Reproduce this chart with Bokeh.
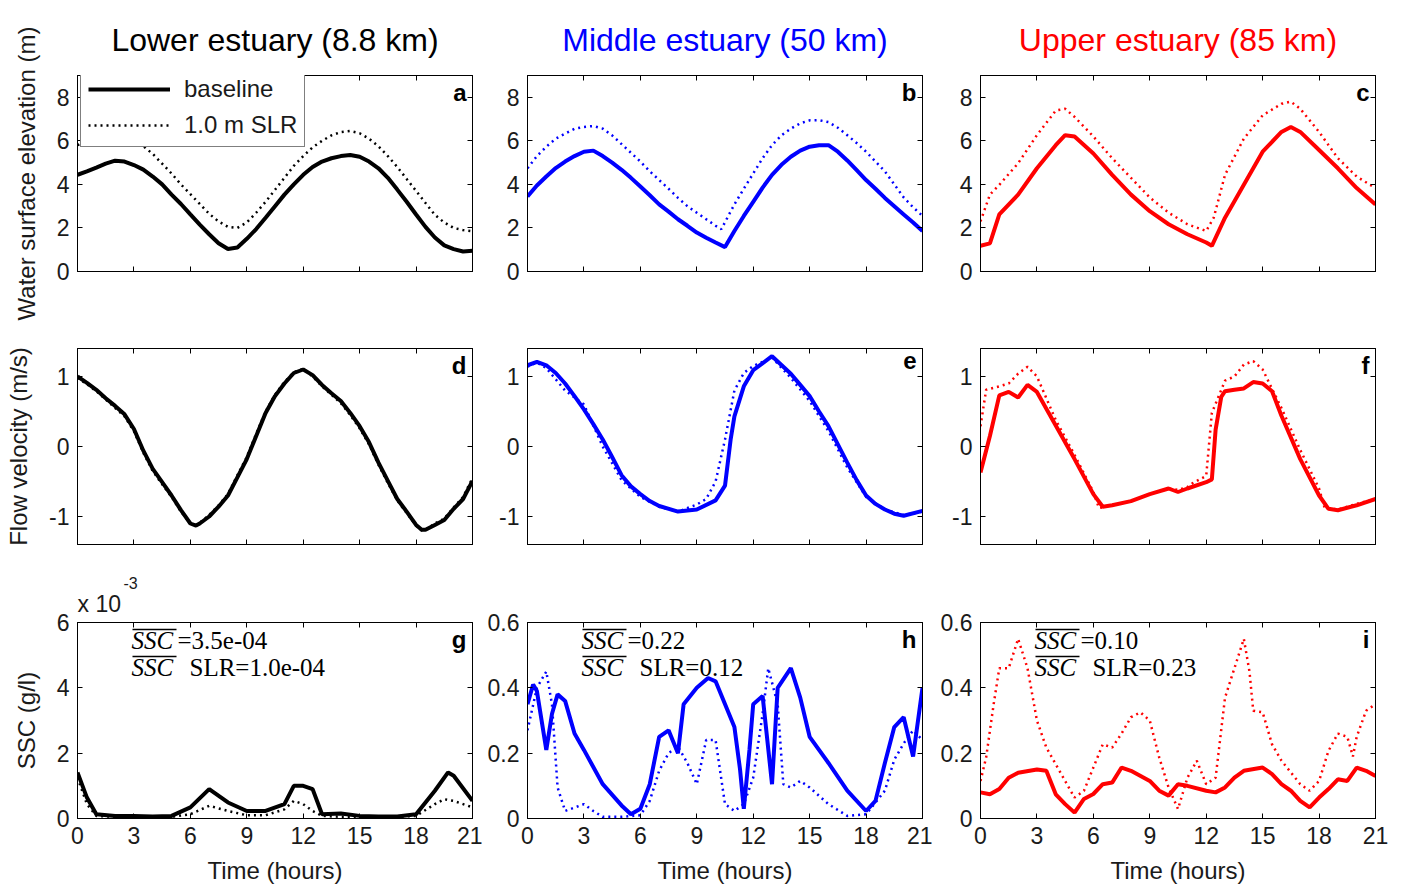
from bokeh.plotting import figure
from bokeh.layouts import column, row
from bokeh.models import (Range1d, FixedTicker, LinearAxis, Label, Legend,
                          LegendItem, Arrow, Title)
from bokeh.embed import file_html
from bokeh.resources import INLINE

# ---------------- data ----------------
titles = ["Lower estuary (8.8 km)", "Middle estuary (50 km)", "Upper estuary (85 km)"]
site_colors = ["black", "blue", "red"]
panel_letters = ["a", "b", "c", "d", "e", "f", "g", "h", "i"]
x_ticks = [0, 3, 6, 9, 12, 15, 18, 21]
legend_labels = ["baseline", "1.0 m SLR"]

# Water surface elevation (m)
a_base_t = [0, 0.5, 1, 1.5, 2, 2.5, 3, 3.5, 4, 4.5, 5, 5.5, 6, 6.5, 7, 7.5, 8, 8.5, 9, 9.5, 10, 10.5, 11, 11.5, 12, 12.5, 13, 13.5, 14, 14.5, 15, 15.5, 16, 16.5, 17, 17.5, 18, 18.5, 19, 19.5, 20, 20.5, 21]
a_base_v = [4.44, 4.6, 4.77, 4.95, 5.09, 5.05, 4.89, 4.68, 4.36, 4.0, 3.53, 3.1, 2.62, 2.15, 1.71, 1.3, 1.03, 1.1, 1.5, 1.95, 2.47, 3.0, 3.53, 4.0, 4.44, 4.8, 5.05, 5.2, 5.3, 5.35, 5.27, 5.05, 4.74, 4.3, 3.76, 3.2, 2.62, 2.05, 1.56, 1.2, 1.03, 0.92, 0.95]
a_slr_t = [0, 1, 2, 3, 4, 4.5, 5, 5.5, 6, 6.5, 7, 7.5, 8, 8.5, 9, 9.5, 10, 10.5, 11, 11.5, 12, 12.5, 13, 13.5, 14, 14.5, 15, 15.5, 16, 16.5, 17, 17.5, 18, 18.5, 19, 19.5, 20, 20.5, 21]
a_slr_v = [5.8, 6.2, 6.3, 6.1, 5.4, 4.95, 4.5, 4.0, 3.55, 3.1, 2.65, 2.3, 2.05, 2.0, 2.25, 2.7, 3.2, 3.75, 4.3, 4.85, 5.3, 5.7, 6.0, 6.25, 6.4, 6.45, 6.35, 6.1, 5.75, 5.3, 4.8, 4.25, 3.7, 3.15, 2.6, 2.25, 2.0, 1.9, 1.85]

b_base_t = [0, 0.5, 1, 1.5, 2, 2.5, 3, 3.5, 4, 4.5, 5, 5.5, 6, 6.5, 7, 7.5, 8, 8.5, 9, 9.5, 10, 10.5, 11, 11.5, 12, 12.5, 13, 13.5, 14, 14.5, 15, 15.5, 16, 16.5, 17, 17.5, 18, 18.5, 19, 19.5, 20, 20.5, 21]
b_base_v = [3.45, 3.95, 4.36, 4.75, 5.05, 5.3, 5.5, 5.55, 5.3, 5.0, 4.67, 4.3, 3.9, 3.5, 3.08, 2.75, 2.4, 2.1, 1.79, 1.55, 1.33, 1.12, 1.86, 2.55, 3.2, 3.85, 4.44, 4.9, 5.27, 5.55, 5.73, 5.8, 5.8, 5.5, 5.1, 4.65, 4.2, 3.8, 3.38, 3.0, 2.62, 2.25, 1.86]
b_slr_t = [0, 0.5, 1, 1.5, 2, 2.5, 3, 3.5, 4, 4.5, 5, 5.5, 6, 6.5, 7, 7.5, 8, 8.5, 9, 9.5, 10, 10.3, 11, 11.5, 12, 12.5, 13, 13.5, 14, 14.5, 15, 15.5, 16, 16.5, 17, 17.5, 18, 18.5, 19, 19.5, 20, 20.5, 21]
b_slr_v = [4.74, 5.3, 5.73, 6.1, 6.33, 6.55, 6.64, 6.68, 6.56, 6.25, 5.85, 5.45, 5.05, 4.6, 4.2, 3.8, 3.38, 3.0, 2.7, 2.4, 2.1, 1.94, 3.08, 3.8, 4.5, 5.2, 5.8, 6.25, 6.56, 6.8, 6.94, 6.95, 6.86, 6.6, 6.26, 5.9, 5.5, 5.05, 4.6, 4.0, 3.4, 2.95, 2.55]

c_base_t = [0, 0.5, 1, 2, 3, 4, 4.5, 5, 6, 7, 8, 9, 10, 11, 12, 12.3, 13, 14, 15, 16, 16.5, 17, 18, 19, 20, 21]
c_base_v = [1.18, 1.29, 2.62, 3.53, 4.74, 5.8, 6.26, 6.2, 5.42, 4.44, 3.53, 2.77, 2.17, 1.71, 1.33, 1.18, 2.47, 3.98, 5.5, 6.41, 6.64, 6.41, 5.58, 4.74, 3.83, 3.08]
c_slr_t = [0, 0.5, 1, 2, 3, 4, 4.5, 5, 6, 7, 8, 9, 10, 11, 12, 12.4, 13, 14, 15, 16, 16.5, 17, 18, 19, 20, 21]
c_slr_v = [2.3, 3.53, 3.98, 4.97, 6.26, 7.39, 7.47, 7.1, 6.2, 5.2, 4.3, 3.4, 2.7, 2.17, 1.86, 2.47, 4.44, 6.1, 7.17, 7.7, 7.8, 7.47, 6.41, 5.2, 4.36, 3.83]

# Flow velocity (m/s)
d_base_t = [0, 0.5, 1, 1.5, 2, 2.5, 3, 3.5, 4, 4.5, 5, 5.5, 6, 6.3, 6.5, 7, 7.5, 8, 8.5, 9, 9.5, 10, 10.5, 11, 11.5, 12, 12.5, 13, 13.5, 14, 14.5, 15, 15.5, 16, 16.5, 17, 17.5, 18, 18.3, 18.5, 19, 19.5, 20, 20.5, 21]
d_base_v = [1.0, 0.91, 0.81, 0.69, 0.58, 0.46, 0.25, -0.06, -0.32, -0.51, -0.7, -0.91, -1.1, -1.13, -1.1, -1.0, -0.86, -0.7, -0.44, -0.18, 0.15, 0.48, 0.72, 0.9, 1.05, 1.1, 1.02, 0.88, 0.76, 0.65, 0.48, 0.29, 0.06, -0.23, -0.49, -0.75, -0.93, -1.12, -1.19, -1.19, -1.12, -1.05, -0.89, -0.75, -0.49]
d_slr_t = [0, 0.5, 1, 1.5, 2, 2.5, 3, 3.5, 4, 4.5, 5, 5.5, 6, 6.3, 6.5, 7, 7.5, 8, 8.5, 9, 9.5, 10, 10.5, 11, 11.5, 12, 12.5, 13, 13.5, 14, 14.5, 15, 15.5, 16, 16.5, 17, 17.5, 18, 18.3, 18.5, 19, 19.5, 20, 20.5, 21]
d_slr_v = [0.98, 0.89, 0.79, 0.67, 0.55, 0.43, 0.22, -0.09, -0.35, -0.54, -0.72, -0.93, -1.1, -1.12, -1.09, -0.98, -0.84, -0.68, -0.41, -0.15, 0.18, 0.5, 0.74, 0.92, 1.06, 1.11, 1.0, 0.86, 0.74, 0.62, 0.45, 0.26, 0.03, -0.26, -0.52, -0.77, -0.95, -1.13, -1.2, -1.19, -1.1, -1.03, -0.87, -0.72, -0.45]

e_base_t = [0, 0.5, 1, 1.5, 2, 2.5, 3, 3.5, 4, 4.5, 5, 5.5, 6, 6.5, 7, 8, 9, 10, 10.5, 10.8, 11, 11.5, 12, 13, 14, 14.5, 15, 15.5, 16, 16.5, 17, 17.5, 18, 18.5, 19, 19.5, 20, 21]
e_base_v = [1.16, 1.21, 1.16, 1.05, 0.9, 0.72, 0.53, 0.32, 0.1, -0.15, -0.41, -0.57, -0.68, -0.78, -0.85, -0.93, -0.9, -0.77, -0.56, 0.1, 0.43, 0.86, 1.09, 1.29, 1.04, 0.88, 0.72, 0.5, 0.29, 0.03, -0.23, -0.48, -0.7, -0.82, -0.9, -0.96, -0.99, -0.92]
e_slr_t = [0, 0.5, 1, 2, 3, 4, 5, 6, 7, 8, 9, 9.5, 10, 10.5, 11, 11.5, 12, 13, 14, 15, 16, 17, 18, 19, 20, 21]
e_slr_v = [1.14, 1.2, 1.12, 0.8, 0.6, 0.0, -0.48, -0.72, -0.86, -0.93, -0.83, -0.75, -0.5, 0.1, 0.8, 1.05, 1.15, 1.27, 0.98, 0.65, 0.22, -0.3, -0.72, -0.9, -0.98, -0.93]

f_base_t = [0, 0.5, 1, 1.5, 2, 2.5, 3, 4, 5, 6, 6.5, 7, 8, 9, 10, 10.5, 11, 12, 12.3, 12.5, 12.8, 13, 13.5, 14, 14.5, 15, 15.5, 16, 17, 18, 18.5, 19, 20, 21]
f_base_v = [-0.37, 0.15, 0.73, 0.78, 0.7, 0.88, 0.78, 0.3, -0.18, -0.68, -0.86, -0.84, -0.78, -0.68, -0.6, -0.65, -0.6, -0.51, -0.47, 0.24, 0.71, 0.79, 0.81, 0.83, 0.92, 0.9, 0.79, 0.44, -0.18, -0.7, -0.89, -0.91, -0.84, -0.75]
f_slr_t = [0, 0.3, 1, 1.5, 2, 2.5, 3, 4, 5, 6, 6.3, 7, 8, 9, 10, 10.5, 11, 11.3, 12, 12.3, 13, 13.5, 14, 14.5, 15, 16, 17, 18, 18.3, 19, 20, 21]
f_slr_v = [0.29, 0.81, 0.86, 0.9, 1.04, 1.14, 1.0, 0.38, -0.12, -0.65, -0.88, -0.84, -0.78, -0.68, -0.6, -0.62, -0.58, -0.52, -0.42, 0.48, 0.94, 1.0, 1.17, 1.22, 1.1, 0.55, -0.05, -0.6, -0.88, -0.9, -0.82, -0.75]

# Suspended sediment concentration; lower estuary in units of 1e-3 g/l
g_base_t = [0, 0.5, 1, 2, 3, 4, 5, 6, 7, 8, 9, 10, 11, 11.5, 12, 12.5, 13, 14, 15, 16, 17, 18, 19, 19.7, 20, 21]
g_base_v = [1.41, 0.64, 0.13, 0.08, 0.08, 0.06, 0.08, 0.34, 0.9, 0.49, 0.23, 0.23, 0.44, 1.0, 1.0, 0.9, 0.13, 0.15, 0.08, 0.06, 0.06, 0.13, 0.85, 1.41, 1.31, 0.54]
g_slr_t = [0, 0.5, 1, 2, 3, 4, 5, 6, 7, 8, 9, 10, 11, 11.5, 12, 12.5, 13, 14, 15, 16, 17, 18, 19, 19.5, 20, 21]
g_slr_v = [1.25, 0.44, 0.08, 0.05, 0.05, 0.05, 0.05, 0.13, 0.39, 0.23, 0.1, 0.1, 0.28, 0.54, 0.44, 0.23, 0.08, 0.05, 0.05, 0.05, 0.05, 0.08, 0.44, 0.59, 0.54, 0.34]

h_base_t = [0, 0.3, 0.5, 1, 1.3, 1.6, 2, 2.5, 3, 4, 5, 5.5, 6, 6.5, 7, 7.5, 8, 8.3, 9, 9.6, 10, 11, 11.3, 11.5, 11.8, 12, 12.5, 13, 13.3, 14, 14.5, 15, 16, 17, 18, 18.5, 19, 19.5, 20, 20.5, 21]
h_base_v = [0.35, 0.41, 0.39, 0.21, 0.32, 0.38, 0.36, 0.26, 0.21, 0.105, 0.04, 0.013, 0.03, 0.105, 0.25, 0.27, 0.2, 0.35, 0.4, 0.43, 0.42, 0.28, 0.15, 0.03, 0.21, 0.35, 0.375, 0.105, 0.4, 0.46, 0.37, 0.25, 0.17, 0.085, 0.023, 0.054, 0.17, 0.28, 0.31, 0.19, 0.4]
h_slr_t = [0, 0.5, 1, 1.3, 1.6, 2, 3, 3.5, 4, 5, 6, 6.5, 7, 7.5, 8, 8.5, 9, 9.5, 10, 10.5, 11, 11.5, 12, 12.5, 12.8, 13.3, 13.6, 14, 14.5, 15, 16, 17, 18, 19, 19.5, 20, 20.5, 21]
h_slr_v = [0.27, 0.4, 0.45, 0.35, 0.095, 0.023, 0.044, 0.023, 0.005, 0.005, 0.01, 0.054, 0.146, 0.2, 0.22, 0.17, 0.105, 0.24, 0.24, 0.044, 0.023, 0.044, 0.125, 0.32, 0.46, 0.35, 0.105, 0.095, 0.115, 0.095, 0.044, 0.008, 0.013, 0.085, 0.18, 0.23, 0.27, 0.24]

i_base_t = [0, 0.5, 1, 1.5, 2, 3, 3.5, 4, 4.5, 5, 5.5, 6, 6.5, 7, 7.5, 8, 9, 9.5, 10, 10.5, 11, 12, 12.5, 13, 13.5, 14, 15, 15.5, 16, 16.5, 17, 17.5, 18, 18.5, 19, 19.5, 20, 20.5, 21]
i_base_v = [0.08, 0.074, 0.09, 0.125, 0.14, 0.15, 0.146, 0.074, 0.044, 0.018, 0.06, 0.075, 0.105, 0.11, 0.156, 0.146, 0.115, 0.085, 0.07, 0.105, 0.1, 0.085, 0.08, 0.095, 0.125, 0.146, 0.156, 0.136, 0.105, 0.085, 0.054, 0.034, 0.064, 0.09, 0.12, 0.115, 0.156, 0.146, 0.13]
i_slr_t = [0, 0.3, 0.7, 1, 1.5, 2, 2.5, 3, 3.5, 4, 4.5, 5, 5.5, 6, 6.5, 7, 7.5, 8, 8.5, 9, 9.5, 10, 10.5, 11, 11.5, 12, 12.5, 13, 13.5, 14, 14.3, 14.5, 15, 15.5, 16, 17, 17.5, 18, 18.5, 19, 19.5, 19.8, 20, 20.5, 21]
i_slr_v = [0.115, 0.187, 0.35, 0.46, 0.46, 0.55, 0.46, 0.3, 0.217, 0.166, 0.115, 0.064, 0.085, 0.156, 0.227, 0.217, 0.26, 0.31, 0.325, 0.3, 0.187, 0.095, 0.029, 0.125, 0.177, 0.105, 0.125, 0.37, 0.46, 0.55, 0.45, 0.33, 0.325, 0.227, 0.177, 0.105, 0.085, 0.115, 0.207, 0.26, 0.25, 0.19, 0.25, 0.33, 0.35]

ssc_mean_text = ["=3.5e-04", "=0.22", "=0.10"]
ssc_slr_text = ["SLR=1.0e-04", "SLR=0.12", "SLR=0.23"]
g_scale_text = ["x 10", "-3"]

series = [
    [(a_base_t, a_base_v, a_slr_t, a_slr_v), (b_base_t, b_base_v, b_slr_t, b_slr_v), (c_base_t, c_base_v, c_slr_t, c_slr_v)],
    [(d_base_t, d_base_v, d_slr_t, d_slr_v), (e_base_t, e_base_v, e_slr_t, e_slr_v), (f_base_t, f_base_v, f_slr_t, f_slr_v)],
    [(g_base_t, g_base_v, g_slr_t, g_slr_v), (h_base_t, h_base_v, h_slr_t, h_slr_v), (i_base_t, i_base_v, i_slr_t, i_slr_v)],
]

row_yranges = [(0, 9), (-1.4, 1.4), (0, 0.6)]
row_yticks = [[0, 2, 4, 6, 8], [-1, 0, 1], [0, 0.2, 0.4, 0.6]]
row_ylabels = [{0: "0", 2: "2", 4: "4", 6: "6", 8: "8"},
               {-1: "-1", 0: "0", 1: "1"},
               {0: "0", 0.2: "0.2", 0.4: "0.4", 0.6: "0.6"}]
g_yrange = (0, 6)
g_yticks = [0, 2, 4, 6]
row_axis_titles = ["Water surface elevation (m)", "Flow velocity (m/s)", "SSC (g/l)"]
x_title = "Time (hours)"

# ---------------- layout / styling ----------------
FW, FH = 395, 196
FONT = "Liberation Sans"
SERIF = "Liberation Serif"
LEFT = [77, 45, 48]
RIGHT = [10, 10, 27]
TOP = [75, 26, 62]
BOTTOM = [51, 16, 68]
TXT = "#1a1a1a"


def style_axis(ax, ticks, overrides, show_labels):
    ax.ticker = FixedTicker(ticks=ticks)
    ax.major_tick_in = 5
    ax.major_tick_out = 0
    ax.minor_tick_line_color = None
    ax.axis_line_color = "black"
    ax.major_tick_line_color = "black"
    ax.major_label_text_font = FONT
    ax.major_label_text_color = TXT
    if show_labels:
        ax.major_label_overrides = overrides
        ax.major_label_text_font_size = "23px"
        ax.major_label_standoff = 8
    else:
        ax.major_label_overrides = {t: "" for t in ticks}
        ax.major_label_text_font_size = "1px"
        ax.major_label_standoff = 0


figs_rows = []
for r in range(3):
    figs = []
    for c in range(3):
        if r == 2 and c == 0:
            yr, yt = g_yrange, g_yticks
            yl = {t: str(t) for t in yt}
        else:
            yr, yt, yl = row_yranges[r], row_yticks[r], row_ylabels[r]
        p = figure(frame_width=FW, frame_height=FH,
                   x_range=Range1d(0, 21), y_range=Range1d(*yr),
                   min_border_left=LEFT[c], min_border_right=RIGHT[c],
                   min_border_top=TOP[r], min_border_bottom=BOTTOM[r],
                   toolbar_location=None, tools="", output_backend="svg",
                   background_fill_color="white", border_fill_color="white")
        p.grid.visible = False
        p.outline_line_color = "black"
        p.outline_line_alpha = 1.0
        p.outline_line_width = 1

        xb = p.below[0]
        yl_ax = p.left[0]
        xoverr = {t: str(t) for t in x_ticks}
        style_axis(xb, x_ticks, xoverr, r == 2)
        style_axis(yl_ax, yt, yl, True)
        if c == 0:
            yl_ax.axis_label = row_axis_titles[r]
            yl_ax.axis_label_text_font = FONT
            yl_ax.axis_label_text_font_size = "24px"
            yl_ax.axis_label_text_font_style = "normal"
            yl_ax.axis_label_text_color = TXT
            yl_ax.axis_label_standoff = 14
        if r == 2:
            xb.axis_label = x_title
            xb.axis_label_text_font = FONT
            xb.axis_label_text_font_size = "24px"
            xb.axis_label_text_font_style = "normal"
            xb.axis_label_text_color = TXT
            xb.axis_label_standoff = 10

        top_ax = LinearAxis()
        style_axis(top_ax, x_ticks, xoverr, False)
        p.add_layout(top_ax, "above")
        right_ax = LinearAxis()
        style_axis(right_ax, yt, yl, False)
        p.add_layout(right_ax, "right")

        if r == 0:
            p.title.text = titles[c]
            p.title.align = "center"
            p.title.text_font = FONT
            p.title.text_font_size = "32px"
            p.title.text_font_style = "normal"
            p.title.text_color = site_colors[c]
            p.title.standoff = 36
        if r == 2 and c == 0:
            # scale factor "x 10^-3" above the axis
            p.add_layout(Title(text=g_scale_text[0], align="left", offset=0,
                               text_font=FONT, text_font_size="23px",
                               text_font_style="normal", text_color=TXT,
                               standoff=11), "above")
            p.title.text = g_scale_text[1]
            p.title.align = "left"
            p.title.offset = 46
            p.title.text_font = FONT
            p.title.text_font_size = "16px"
            p.title.text_font_style = "normal"
            p.title.text_color = TXT
            p.title.standoff = -10

        bt, bv, st, sv = series[r][c]
        col = site_colors[c]
        r_slr = p.line(st, sv, line_color=col, line_width=2.5, line_dash="2 4")
        r_base = p.line(bt, bv, line_color=col, line_width=4)

        if r == 0 and c == 0:
            leg = Legend(items=[LegendItem(label=legend_labels[0], renderers=[r_base]),
                                LegendItem(label=legend_labels[1], renderers=[r_slr])],
                         location=(3, 124), orientation="vertical",
                         label_text_font=FONT, label_text_font_size="24px",
                         label_text_color=TXT,
                         glyph_width=82, glyph_height=24, label_height=24,
                         label_standoff=14, spacing=8, padding=7, margin=0,
                         border_line_color="black", border_line_width=1,
                         background_fill_color="white", background_fill_alpha=1.0)
            p.add_layout(leg)

        p.add_layout(Label(x=FW - 6, y=FH - 3, x_units="screen", y_units="screen",
                           text=panel_letters[r * 3 + c], text_align="right",
                           text_baseline="top", text_font=FONT,
                           text_font_size="24px", text_font_style="bold",
                           text_color="black"))

        if r == 2:
            # mean SSC annotations (overlined SSC)
            for yoff, rest, xrest in [(18, ssc_mean_text[c], 100),
                                      (45, ssc_slr_text[c], 112)]:
                p.add_layout(Label(x=54, y=FH - yoff, x_units="screen", y_units="screen",
                                   text="SSC", text_align="left", text_baseline="middle",
                                   text_font=SERIF, text_font_size="25px",
                                   text_font_style="italic", text_color="black"))
                p.add_layout(Arrow(end=None, x_start=55, y_start=FH - yoff + 11,
                                   x_end=99, y_end=FH - yoff + 11,
                                   start_units="screen", end_units="screen",
                                   line_color="black", line_width=1.3))
                p.add_layout(Label(x=xrest, y=FH - yoff, x_units="screen", y_units="screen",
                                   text=rest, text_align="left", text_baseline="middle",
                                   text_font=SERIF, text_font_size="25px",
                                   text_color="black"))
        figs.append(p)
    figs_rows.append(row(*figs, spacing=0))

layout = column(*figs_rows, spacing=0)
open("out.html", "w").write(file_html(layout, INLINE))
